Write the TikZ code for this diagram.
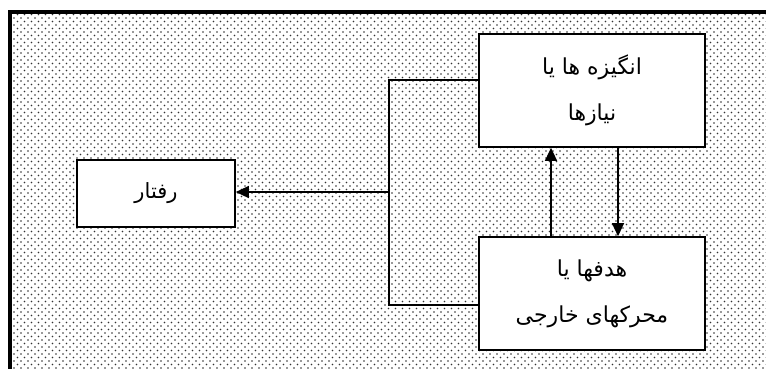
\documentclass[tikz,border=0pt]{standalone}
\usepackage{fontspec}
\newfontfamily\arabicfont[Script=Arabic]{DejaVu Sans}
\TeXXeTstate=1
\usetikzlibrary{patterns,arrows.meta}
\pgfdeclarepatternformonly{bgdots}{\pgfqpoint{-2pt}{-2pt}}{\pgfqpoint{6pt}{6pt}}{\pgfqpoint{7pt}{7pt}}{%
  \pgfpathcircle{\pgfqpoint{0pt}{0pt}}{0.95pt}
  \pgfpathcircle{\pgfqpoint{3.5pt}{3.5pt}}{0.95pt}
  \pgfusepath{fill}
}
\tikzset{
  box/.style={draw=black, line width=1.6pt, fill=white, align=center, inner sep=0pt,
    font=\arabicfont\fontsize{21}{45}\selectfont},
  bigbox/.style={box, minimum width=226pt, minimum height=113pt,
    font=\arabicfont\fontsize{22}{46}\selectfont},
  conn/.style={line width=1.3pt},
  arr/.style={conn, -{Triangle[length=13pt,width=12pt]}}
}
\begin{document}
\begin{tikzpicture}[x=1pt,y=-1pt]
\clip (0,0) rectangle (766,368);
\fill[white] (0,0) rectangle (766,368);
\fill[pattern=bgdots, pattern color=black!80] (9.5,12) rectangle (800,400);
\draw[line width=4pt] (800,12) -- (9.5,12) -- (9.5,400);

\node[box, minimum width=158pt, minimum height=67pt] (behav) at (156,193.5) {\beginR رفتار\endR};
\node[bigbox] (motiv) at (592,90.5) {\beginR انگیزه ها یا\endR\\\beginR نیازها\endR};
\node[bigbox] (goals) at (592,293.5) {\beginR هدفها یا\endR\\\beginR محرکهای خارجی\endR};

\coordinate (jt) at (389,80);
\coordinate (jb) at (389,305);
\coordinate (jm) at (389,192);
\coordinate (upx) at (551,0);
\coordinate (dnx) at (618,0);

\draw[conn] (motiv.west |- jt) -- (jt) -- (jb) -- (goals.west |- jb);
\draw[arr] (jm) -- (behav.east |- jm);
\draw[arr] (goals.north -| upx) -- (motiv.south -| upx);
\draw[arr] (motiv.south -| dnx) -- (goals.north -| dnx);
\end{tikzpicture}
\end{document}
